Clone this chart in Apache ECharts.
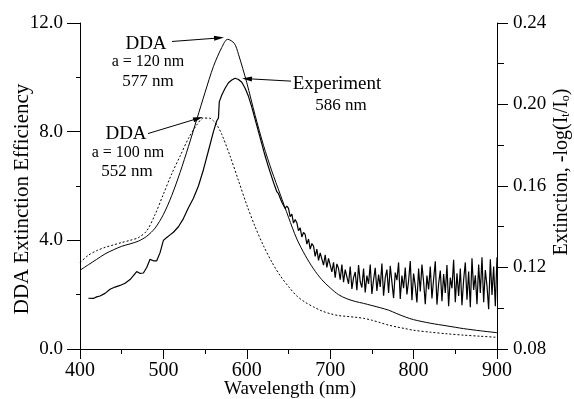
<!DOCTYPE html>
<html>
<head>
<meta charset="utf-8">
<script src="https://cdn.jsdelivr.net/npm/echarts@6/dist/echarts.min.js"></script>
<style>html,body{margin:0;padding:0;background:#fff}#c{width:574px;height:399px}</style>
</head>
<body>
<div id="c"></div>
<script>
// DDA a = 120 nm (left axis, extinction efficiency)
const wl120 = [400,410,420,430,440,450,460,470,480,490,500,510,520,530,540,550,560,570,577,585,590,600,610,620,630,640,650,660,670,680,690,700,710,720,730,740,750,760,770,780,790,800,820,840,860,880,900];
const ext120 = [2.9,3.1,3.3,3.5,3.65,3.78,3.87,3.97,4.15,4.45,4.95,5.65,6.5,7.45,8.45,9.45,10.4,11.1,11.4,11.25,10.85,9.8,8.6,7.5,6.55,5.7,4.85,4.05,3.45,2.95,2.55,2.25,2.0,1.85,1.75,1.68,1.6,1.52,1.43,1.3,1.18,1.08,0.95,0.85,0.75,0.67,0.6];

// DDA a = 100 nm (left axis)
const wl100 = [400,410,420,430,440,450,460,470,480,490,500,510,520,530,540,548,555,560,565,570,580,590,600,610,620,630,640,650,660,670,680,690,700,710,720,730,740,750,760,770,780,790,800,820,840,860,880,900];
const ext100 = [3.18,3.45,3.62,3.74,3.83,3.92,4.0,4.1,4.35,4.95,5.7,6.45,7.1,7.75,8.25,8.5,8.5,8.4,8.2,7.9,7.1,6.2,5.3,4.5,3.8,3.2,2.7,2.3,1.95,1.72,1.55,1.4,1.3,1.23,1.2,1.17,1.13,1.06,0.97,0.88,0.81,0.75,0.69,0.62,0.56,0.51,0.47,0.43];

// Experiment (right axis, -log(It/Io))
const expWl = [410,416,420,424,430,436,442,448,454,460,464,468,472,476,480,484,488,492,496,500,504,508,512,518,524,530,536,542,548,554,560,564,566,567,570,574,578,582,586,590,594,598,602,606,610,614,618,622,626,628,
630,632,634,636,638,640,642,644,646,648,650,652,654,656,658,660,662,664,666,668,670,672,674,676,678,680,682,684,686,688,690,692,694,696,698,
700,702,704,706,708,710,712,714,716,718,720,722,724,726,728,730,732,734,736,738,740,742,744,746,748,750,752,754,756,758,760,762,764,766,768,
770,772,774,776,778,780,782,784,786,788,790,792,794,796,798,800,802,804,806,808,810,812,814,816,818,820,822,824,826,828,830,832,834,836,838,
840,842,844,846,848,850,852,854,856,858,860,862,864,866,868,870,872,874,876,878,880,882,884,886,888,890,892,894,896,898,900];
const expExt = [0.1049,0.1048,0.1056,0.1060,0.1073,0.1093,0.1104,0.1112,0.1123,0.1141,0.1160,0.1180,0.1171,0.1173,0.1200,0.1240,0.1233,0.1233,0.1273,0.1333,0.1347,0.1360,0.1373,0.1400,0.1440,0.1493,0.1540,0.1600,0.1680,0.1773,0.1867,0.1920,0.1933,0.2013,0.2047,0.2080,0.2107,0.2120,0.2129,0.2123,0.2109,0.2080,0.2040,0.1987,0.1927,0.1867,0.1807,0.1747,0.1693,0.1668,
0.1662,0.1618,0.1612,0.1572,0.1562,0.1555,0.1520,0.1528,0.1490,0.1502,0.1490,0.1450,0.1462,0.1418,0.1435,0.1420,0.1380,0.1395,0.1350,0.1372,0.1362,0.1315,0.1340,0.1290,0.1318,0.1305,0.1255,0.1290,0.1235,0.1272,0.1268,0.1212,0.1262,0.1200,0.1245,
0.1240,0.1178,0.1225,0.1150,0.1218,0.1195,0.1140,0.1215,0.1128,0.1190,
0.1185,0.1120,0.1205,0.1095,0.1150,0.1178,0.1088,0.1212,0.1130,0.1102,
0.1195,0.1078,0.1160,0.1120,0.1215,0.1070,0.1140,0.1198,0.1085,0.1165,
0.1105,0.1220,0.1062,0.1150,0.1190,0.1075,0.1208,0.1128,0.1050,0.1175,
0.1138,0.1225,0.1045,0.1160,0.1098,0.1200,0.1068,0.1135,0.1232,0.1040,
0.1170,0.1110,0.1028,0.1195,0.1082,0.1215,0.1130,0.1020,0.1160,0.1092,
0.1205,0.1048,0.1142,0.1230,0.1018,0.1120,0.1185,0.1035,0.1168,0.1075,
0.1212,0.1010,0.1150,0.1098,0.1238,0.1030,0.1172,0.1060,0.1195,0.1015,
0.1140,0.1225,0.1042,0.1180,0.1005,0.1245,0.1090,0.1162,0.1020,0.1215,
0.1075,0.1250,0.1030,0.1188,0.1110,0.0995,0.1240,0.1065,0.1205,0.1010,
0.1250];

const zip = (a, b) => a.map((v, i) => [v, b[i]]);
const FONT = "'Liberation Serif','Times New Roman',serif";

const chart = echarts.init(document.getElementById('c'), null, {renderer: 'canvas'});

function arrow(from, to) {
  return [
    {coord: from, symbol: 'none'},
    {coord: to, symbol: 'triangle', symbolSize: [5, 10]}
  ];
}

function txt(x, y, text, size) {
  return {type: 'text', x: x, y: y, silent: true,
    style: {text: text, fontFamily: FONT, fontSize: size, fill: '#000', align: 'center', verticalAlign: 'middle'}};
}

chart.setOption({
  animation: false,
  backgroundColor: '#fff',
  grid: {left: 80, right: 77, top: 23, bottom: 50, containLabel: false, outerBoundsMode: 'none'},
  xAxis: {
    type: 'value', min: 400, max: 900, interval: 100,
    axisLine: {show: true, lineStyle: {color: '#000', width: 1}},
    axisTick: {show: true, length: 10, lineStyle: {color: '#000'}},
    minorTick: {show: true, splitNumber: 2, length: 5, lineStyle: {color: '#000'}},
    axisLabel: {fontFamily: FONT, fontSize: 20, color: '#000', margin: 12},
    splitLine: {show: false}
  },
  yAxis: [{
    type: 'value', min: 0, max: 12, interval: 4, position: 'left',
    axisLine: {show: true, lineStyle: {color: '#000', width: 1}},
    axisTick: {show: true, length: 13, lineStyle: {color: '#000'}},
    minorTick: {show: true, splitNumber: 2, length: 4, lineStyle: {color: '#000'}},
    axisLabel: {fontFamily: FONT, fontSize: 19, color: '#000', margin: 17, formatter: v => v.toFixed(1)},
    splitLine: {show: false}
  }, {
    type: 'value', min: 0.08, max: 0.24, interval: 0.04, position: 'right',
    axisLine: {show: true, lineStyle: {color: '#000', width: 1}},
    axisTick: {show: true, length: 11, lineStyle: {color: '#000'}},
    minorTick: {show: true, splitNumber: 2, length: 7, lineStyle: {color: '#000'}},
    axisLabel: {fontFamily: FONT, fontSize: 19, color: '#000', margin: 16, formatter: v => v.toFixed(2)},
    splitLine: {show: false}
  }],
  series: [{
    name: 'DDA a = 120 nm', type: 'line', yAxisIndex: 0, showSymbol: false, smooth: 0.3,
    lineStyle: {color: '#000', width: 1}, data: zip(wl120, ext120),
    markLine: {
      silent: true, animation: false, label: {show: false},
      lineStyle: {color: '#000', width: 1, type: 'solid'},
      itemStyle: {color: '#000'},
      emphasis: {disabled: true},
      data: [
        arrow([510.3, 11.32], [566.7, 11.45]),
        arrow([481.5, 7.93], [541.7, 8.49]),
        arrow([653, 9.86], [600.2, 9.95])
      ]
    }
  }, {
    name: 'DDA a = 100 nm', type: 'line', yAxisIndex: 0, showSymbol: false, smooth: 0.3,
    lineStyle: {color: '#000', width: 1, type: [2, 2]}, data: zip(wl100, ext100)
  }, {
    name: 'Experiment', type: 'line', yAxisIndex: 1, showSymbol: false,
    lineStyle: {color: '#000', width: 1.2}, data: zip(expWl, expExt)
  }],
  graphic: [
    txt(146, 44, 'DDA', 19),
    txt(148, 62, 'a = 120 nm', 16),
    txt(148, 82, '577 nm', 17),
    txt(126, 134, 'DDA', 19),
    txt(128, 153, 'a = 100 nm', 16),
    txt(127, 172, '552 nm', 17),
    txt(337, 84, 'Experiment', 19),
    txt(341, 106, '586 nm', 17),
    txt(290, 389, 'Wavelength (nm)', 19),
    {type: 'text', x: 22, y: 199, rotation: Math.PI / 2, silent: true,
      style: {text: 'DDA Extinction Efficiency', fontFamily: FONT, fontSize: 21, fill: '#000', align: 'center', verticalAlign: 'middle'}},
    {type: 'text', x: 561, y: 172, rotation: Math.PI / 2, silent: true,
      style: {text: '{a|Extinction, -log(I}{s|t}{a|/I}{s|o}{a|)}', align: 'center', verticalAlign: 'middle',
        rich: {
          a: {fontFamily: FONT, fontSize: 20, fill: '#000', lineHeight: 22, verticalAlign: 'bottom'},
          s: {fontFamily: FONT, fontSize: 12, fill: '#000', lineHeight: 12, verticalAlign: 'bottom'}
        }}}
  ]
});
</script>
</body>
</html>
